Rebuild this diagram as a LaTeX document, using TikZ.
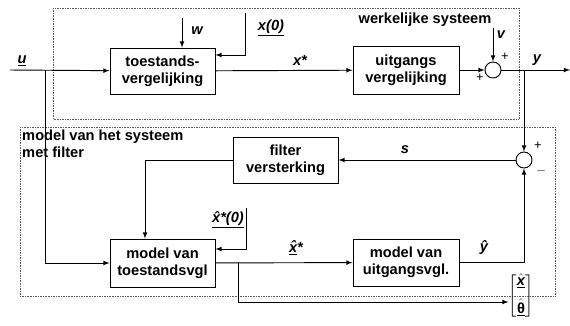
\documentclass[tikz,border=0pt]{standalone}
\usepackage{amsmath}
\usepackage{fontspec}
\setmainfont{Liberation Sans}
\usepackage{tikz}
\usetikzlibrary{positioning,arrows}

\begin{document}
\begin{tikzpicture}[
    x=0.03cm, y=-0.03cm,
    font=\fontsize{12.5}{14.5}\selectfont\bfseries,
    blok/.style={draw, thick, align=center, inner sep=1pt},
    som/.style={draw, thick, circle, minimum size=0.48cm, inner sep=0pt},
    kader/.style={densely dotted, gray!70!black},
    lbl/.style={font=\fontsize{12.5}{14.5}\selectfont\bfseries\itshape, inner sep=1pt},
    teken/.style={font=\fontsize{11}{12}\selectfont, inner sep=1pt},
    >=latex
]
  \useasboundingbox (0,0) rectangle (570,325);

  % kaders
  \draw[kader] (53,8) rectangle (519,119);
  \draw[kader] (20,127) rectangle (555,296);
  \node (werk) at (425,20) {werkelijke systeem};
  \node[anchor=north west, align=left, inner sep=0pt] (mod) at (22,130) {model van het systeem\\met filter};

  % blokken
  \node[blok, minimum width=3.15cm, minimum height=1.38cm] (toest) at (162.5,71) {toestands-\\vergelijking};
  \node[blok, minimum width=3.18cm, minimum height=1.44cm] (uitg) at (406,70) {uitgangs\\vergelijking};
  \node[blok, minimum width=3.15cm, minimum height=1.38cm] (filter) at (285.5,160) {filter\\versterking};
  \node[blok, minimum width=3.15cm, minimum height=1.44cm] (modtoest) at (162.5,263) {model van\\toestandsvgl};
  \node[blok, minimum width=3.18cm, minimum height=1.41cm] (moduitg) at (406,262.5) {model van\\uitgangsvgl.};
  \node[som] (som1) at (493,70) {};
  \node[som] (som2) at (524,160) {};
  \node[inner sep=0pt] (vec) at (521,296) {$\left[\begin{array}{@{}c@{}}\underline{\hat{\text{\itshape x}}}\\[7pt]\underline{\hat{\text{θ}}}\end{array}\right]$};

  % vaste punten
  \coordinate (uin) at (10,70);
  \coordinate (yuit) at (570,70);
  \coordinate (tak0) at (45,70);
  \coordinate (tak1) at (524,70);
  \coordinate (win) at (182,18);
  \coordinate (x0) at (245,13);
  \coordinate (x0k) at (245,55);
  \coordinate (vin) at (493,28);
  \coordinate (fk) at (145,160);
  \coordinate (xh0) at (246,208);
  \coordinate (xh0k) at (246,249);
  \coordinate (tak2) at (238,263);
  \coordinate (tak2k) at (238,302);

  % werkelijke systeem
  \draw[thick,->] (uin) -- (toest);
  \draw[thick,->] (win) -- (win |- toest.north);
  \draw[thick,->] (x0) -- (x0k) -- (x0k -| toest.east);
  \draw[thick,->] (toest) -- (uitg);
  \draw[thick,->] (uitg) -- (som1);
  \draw[thick,->] (vin) -- (som1);
  \draw[thick,->] (som1) -- (yuit);

  % model met filter
  \draw[thick,->] (tak1) -- (som2);
  \draw[thick,->] (som2) -- (filter);
  \draw[thick,->] (filter) -- (fk) -- (fk |- modtoest.north);
  \draw[thick,->] (tak0) |- (modtoest);
  \draw[thick,->] (xh0) -- (xh0k) -- (xh0k -| modtoest.east);
  \draw[thick,->] (modtoest) -- (moduitg);
  \draw[thick,->] (moduitg) -| (som2);
  \draw[thick,->] (tak2) -- (tak2k) -- (tak2k -| vec.west);

  % labels
  \node[lbl] (lu) at (22,61) {\underline{u}};
  \node[lbl] (lw) at (197,31) {w};
  \node[lbl] (lx0) at (271,28) {\underline{x(0)}};
  \node[lbl] (lx) at (300,60) {x*};
  \node[lbl] (lv) at (501,35) {v};
  \node[lbl] (ly) at (537,60) {y};
  \node[teken] (p1) at (505,57) {+};
  \node[teken] (p2) at (480,78) {+};
  \node[lbl] (ls) at (405,150) {s};
  \node[teken] (p3) at (538,146) {+};
  \node[teken] (m1) at (541,171) {$-$};
  \node[lbl] (lxh0) at (228,220) {\underline{\^{x}*(0)}};
  \node[lbl] (lxh) at (296,248) {\underline{\^{x}}*};
  \node[lbl] (lyh) at (484,248) {\^{y}};
\end{tikzpicture}
\end{document}
